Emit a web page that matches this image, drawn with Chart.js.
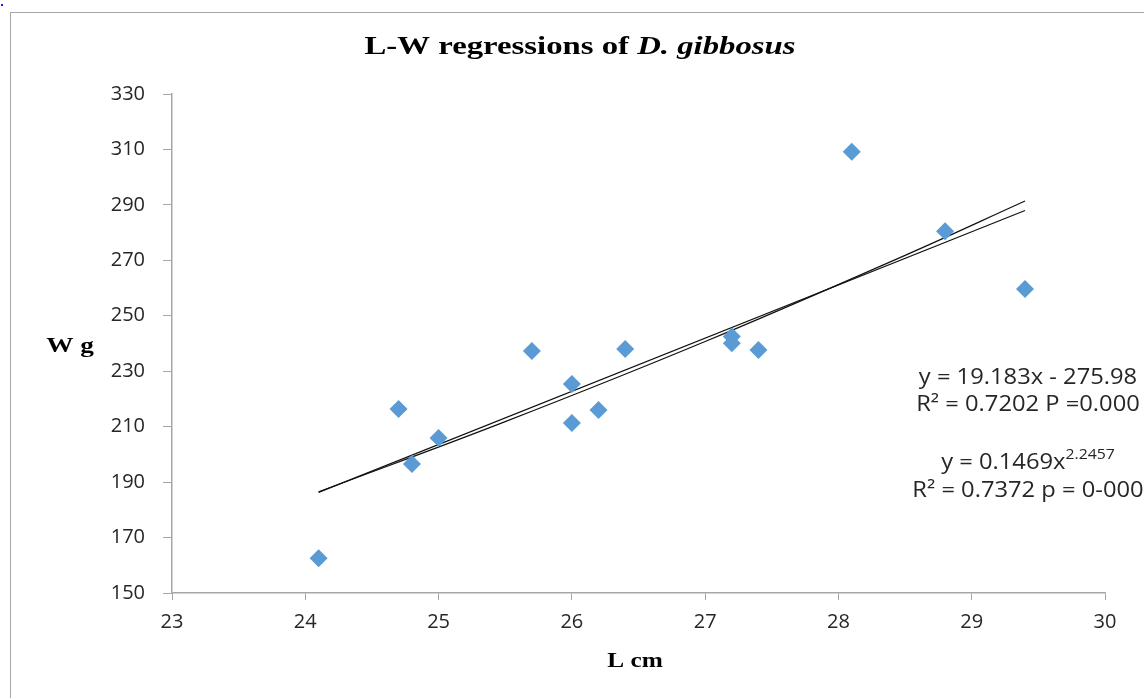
<!DOCTYPE html>
<html>
<head>
<meta charset="utf-8">
<script src="https://cdn.jsdelivr.net/npm/chart.js@4"></script>
<style>
  html, body { margin: 0; padding: 0; background: #fff; }
  #wrap { width: 1144px; height: 698px; position: relative; }
</style>
</head>
<body>
<div id="wrap"><canvas id="chart"></canvas></div>
<script>
// observed lengths (cm) and weights (g)
const lengths = [24.1, 24.7, 24.8, 25.0, 25.7, 26.0, 26.0, 26.2, 26.4, 27.2, 27.2, 27.4, 28.1, 28.8, 29.4];
const weights = [162.5, 216.4, 196.5, 205.9, 237.3, 225.4, 211.3, 216.0, 238.0, 242.5, 240.1, 237.7, 309.2, 280.5, 259.7];

const linearX = [24.1, 29.4];
const linearY = [186.3, 288.0];
const powerX = [24.1, 25.5, 27.0, 28.5, 29.4];
const powerY = [186.5, 211.8, 240.7, 271.8, 291.4];

const xTicks = [23, 24, 25, 26, 27, 28, 29, 30];
const yTicks = [150, 170, 190, 210, 230, 250, 270, 290, 310, 330];

const eqLines = [
    { parts: [['y = 19.183x - 275.98', false]], y: 378 },
    { parts: [['R\u00B2 = 0.7202 P =0.000', false]], y: 405 },
    { parts: [['y = 0.1469x', false], ['2.2457', true]], y: 463 },
    { parts: [['R\u00B2 = 0.7372 p = 0-000', false]], y: 491 },
];

const toPts = (xs, ys) => xs.map((x, i) => ({ x, y: ys[i] }));

// draw a run of [text, font] pieces centred on cx, stretched horizontally by sx
function stretched(ctx, pieces, cx, y, sx) {
    let total = 0;
    pieces.forEach(p => { ctx.font = p.font; total += ctx.measureText(p.text).width; });
    ctx.save();
    ctx.translate(cx - total * sx / 2, y);
    ctx.scale(sx, 1);
    ctx.textAlign = 'left';
    let x = 0;
    pieces.forEach(p => {
        ctx.font = p.font;
        ctx.fillText(p.text, x, p.dy || 0);
        x += ctx.measureText(p.text).width;
    });
    ctx.restore();
}

const serifB = 'bold 26px "Liberation Serif", "Times New Roman", serif';
const serifBI = 'italic bold 26px "Liberation Serif", "Times New Roman", serif';
const serifAxis = 'bold 22px "Liberation Serif", "Times New Roman", serif';
const eqFont = '21px "Open Sans", sans-serif';
const supFont = '14px "Open Sans", sans-serif';

const decorations = {
    id: 'decorations',
    beforeDraw(chart) {
        const ctx = chart.ctx;
        ctx.save();
        ctx.fillStyle = '#fff';
        ctx.fillRect(0, 0, chart.width, chart.height);
        ctx.strokeStyle = '#a6a6a6';
        ctx.lineWidth = 1;
        ctx.strokeRect(10.5, 12.5, 1400, 900);
        ctx.fillStyle = '#1a1aff';
        ctx.fillRect(1, 4, 2, 2);
        ctx.restore();
    },
    afterDraw(chart) {
        const ctx = chart.ctx;
        ctx.save();
        ctx.fillStyle = '#000';
        ctx.textBaseline = 'middle';

        stretched(ctx, [
            { text: 'L-W regressions of ', font: serifB },
            { text: 'D. gibbosus', font: serifBI },
        ], 580, 47, 1.26);

        stretched(ctx, [{ text: 'W g', font: serifAxis }], 70, 346, 1.24);
        stretched(ctx, [{ text: 'L cm', font: serifAxis }], 635, 661, 1.15);

        ctx.fillStyle = '#262626';
        eqLines.forEach(line => {
            stretched(ctx, line.parts.map(([t, s]) => ({
                text: t, font: s ? supFont : eqFont, dy: s ? -8 : 0,
            })), 1028, line.y, 1.13);
        });
        ctx.restore();
    }
};

new Chart(document.getElementById('chart'), {
    type: 'scatter',
    data: {
        datasets: [
            {
                label: 'W',
                data: toPts(lengths, weights),
                pointStyle: 'rectRot',
                pointRadius: 9,
                pointHoverRadius: 9,
                backgroundColor: '#5b9bd5',
                borderColor: '#5b9bd5',
                borderWidth: 0,
            },
            {
                label: 'Linear',
                type: 'line',
                data: toPts(linearX, linearY),
                borderColor: '#111',
                borderWidth: 1.2,
                pointRadius: 0,
                fill: false,
            },
            {
                label: 'Power',
                type: 'line',
                data: toPts(powerX, powerY),
                borderColor: '#111',
                borderWidth: 1.2,
                pointRadius: 0,
                tension: 0.4,
                fill: false,
            },
        ],
    },
    options: {
        responsive: true,
        maintainAspectRatio: false,
        animation: false,
        layout: { padding: { top: 94, right: 39, left: 0, bottom: 0 } },
        plugins: {
            legend: { display: false },
            tooltip: { enabled: false },
        },
        scales: {
            x: {
                type: 'linear',
                min: 23, max: 30,
                afterBuildTicks: s => { s.ticks = xTicks.map(v => ({ value: v })); },
                afterFit: s => { s.height = 105; },
                grid: { drawOnChartArea: false, drawTicks: true, tickLength: 7, color: '#a6a6a6' },
                border: { color: '#a6a6a6', width: 1.5 },
                ticks: { color: '#262626', padding: 10, font: { family: '"Open Sans", sans-serif', size: 20 } },
            },
            y: {
                min: 150, max: 330,
                afterBuildTicks: s => { s.ticks = yTicks.map(v => ({ value: v })); },
                afterFit: s => { s.width = 172; },
                grid: { drawOnChartArea: false, drawTicks: true, tickLength: 9, color: '#a6a6a6' },
                border: { color: '#a6a6a6', width: 1.5 },
                ticks: { color: '#262626', padding: 18, font: { family: '"Open Sans", sans-serif', size: 20 } },
            },
        },
    },
    plugins: [decorations],
});
</script>
</body>
</html>
